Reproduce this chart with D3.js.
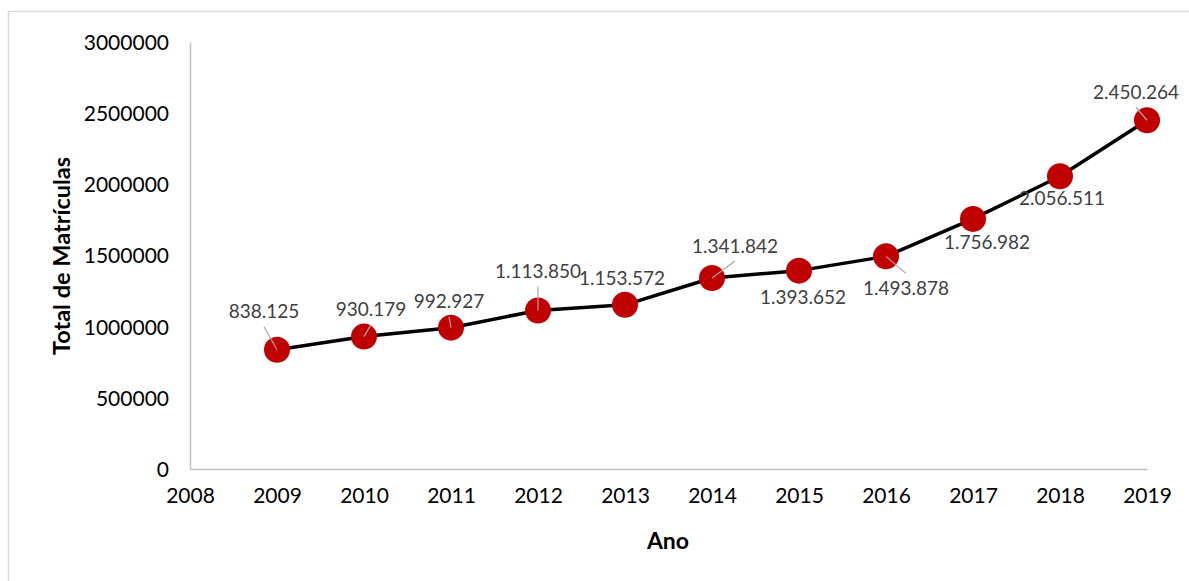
<!DOCTYPE html>
<html>
<head>
<meta charset="utf-8">
<script src="https://cdn.jsdelivr.net/npm/d3@7"></script>
<style>
  html, body { margin: 0; padding: 0; background: #fff; }
  svg { display: block; }
  text { font-family: Lato, "Open Sans", sans-serif; }
</style>
</head>
<body>
<svg id="chart" width="1189" height="581"></svg>
<script>
// Matrículas por ano
const years = [2009, 2010, 2011, 2012, 2013, 2014, 2015, 2016, 2017, 2018, 2019];
const enrollments = [838125, 930179, 992927, 1113850, 1153572, 1341842, 1393652, 1493878, 1756982, 2056511, 2450264];
const yTicks = [0, 500000, 1000000, 1500000, 2000000, 2500000, 3000000];
const xTicks = [2008, 2009, 2010, 2011, 2012, 2013, 2014, 2015, 2016, 2017, 2018, 2019];

// label placement around each marker (pixel offsets of the label centre) and leader visibility
const labelOffset = [[-13, -38], [7, -27], [-2, -26], [0, -39], [-3, -26], [23, -32], [4, 27], [20, 32], [14, 23], [2, 22], [-11, -28]];
const showLeader = [true, true, true, true, false, true, false, true, false, false, true];

const svg = d3.select("#chart");
const margin = { left: 190, right: 42, top: 42, bottom: 112 };
const W = 1189, H = 581;

// outer frame
svg.append("rect")
  .attr("x", 8.5).attr("y", 11.5)
  .attr("width", W + 20).attr("height", H + 20)
  .attr("fill", "none").attr("stroke", "#D9D9D9").attr("stroke-width", 1.5);

const x = d3.scaleLinear().domain([2008, 2019]).range([margin.left, W - margin.right]);
const y = d3.scaleLinear().domain([0, 3000000]).range([H - margin.bottom, margin.top]);

// axes
const xAxis = d3.axisBottom(x).tickValues(xTicks).tickFormat(d3.format("d")).tickSize(0).tickPadding(19);
const yAxis = d3.axisLeft(y).tickValues(yTicks).tickFormat(d3.format("d")).tickSize(0).tickPadding(21);

const gx = svg.append("g").attr("transform", `translate(0,${H - margin.bottom})`).call(xAxis);
const gy = svg.append("g").attr("transform", `translate(${margin.left},0)`).call(yAxis);
[gx, gy].forEach(g => {
  g.select(".domain").attr("stroke", "#BFBFBF").attr("stroke-width", 1.5);
  g.selectAll("text").attr("fill", "#000").style("font-size", "21px").style("font-family", "Lato, sans-serif");
});
gy.selectAll("text").attr("dy", "0.35em");

// axis titles
svg.append("text")
  .attr("x", 668).attr("y", 549)
  .attr("text-anchor", "middle")
  .style("font-size", "23px").style("font-weight", "bold")
  .text("Ano");
svg.append("text")
  .attr("transform", "translate(70,256) rotate(-90)")
  .attr("text-anchor", "middle")
  .style("font-size", "23.5px").style("font-weight", "bold")
  .text("Total de Matrículas");

const data = years.map((yr, i) => ({ yr, v: enrollments[i], i }));

// series line
svg.append("path")
  .datum(data)
  .attr("fill", "none")
  .attr("stroke", "#000")
  .attr("stroke-width", 3.5)
  .attr("stroke-linejoin", "round")
  .attr("d", d3.line().x(d => x(d.yr)).y(d => y(d.v)));

// markers
svg.append("g").selectAll("circle")
  .data(data).join("circle")
  .attr("cx", d => x(d.yr)).attr("cy", d => y(d.v))
  .attr("r", 13)
  .attr("fill", "#C00000");

// data labels with leader lines
const fmt = v => d3.format(",")(v).replace(/,/g, ".");
const labelH = 18;
const gl = svg.append("g");
data.forEach(d => {
  const cx = x(d.yr), cy = y(d.v);
  const [dx, dy] = labelOffset[d.i];
  const lx = cx + dx, ly = cy + dy;
  if (showLeader[d.i]) {
    const endY = dy < 0 ? ly + labelH / 2 + 6 : ly - labelH / 2 - 6;
    gl.append("line")
      .attr("x1", cx).attr("y1", cy)
      .attr("x2", lx).attr("y2", endY)
      .attr("stroke", "#A6A6A6").attr("stroke-width", 1.2);
  }
  gl.append("text")
    .attr("x", lx).attr("y", ly)
    .attr("dy", "0.35em")
    .attr("text-anchor", "middle")
    .attr("fill", "#404040")
    .style("font-size", "19px")
    .text(fmt(d.v));
});
</script>
</body>
</html>
